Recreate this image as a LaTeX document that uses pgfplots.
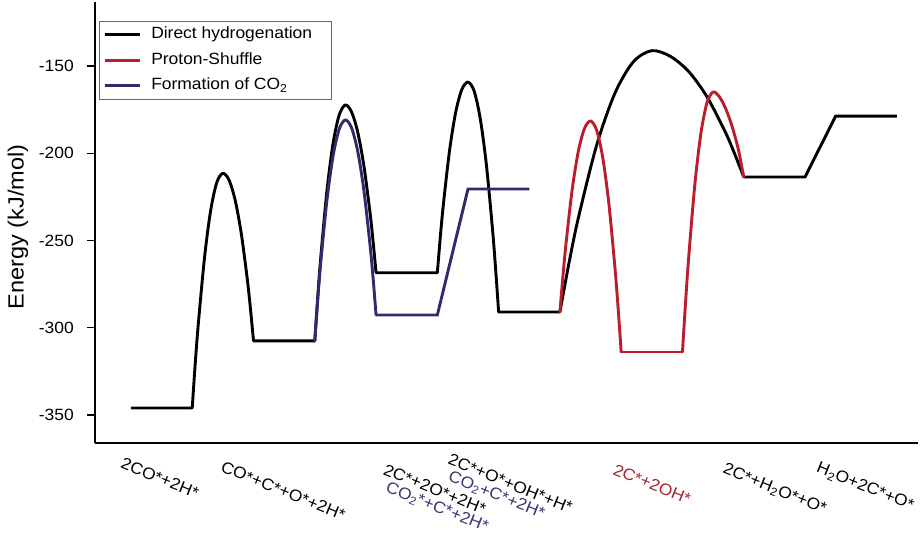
\documentclass[border=0pt]{standalone}
\usepackage{fontspec}
\setmainfont{Liberation Sans}[FakeStretch=1.07]
\usepackage{pgfplots}
\pgfplotsset{compat=1.18}
\definecolor{cred}{RGB}{188,28,44}
\definecolor{cblue}{RGB}{50,42,110}
\definecolor{credtext}{RGB}{165,35,50}
\definecolor{cbluetext}{RGB}{55,55,115}
\newcommand{\lbl}{\fontsize{16.3bp}{19bp}\selectfont}
\begin{document}
\begin{tikzpicture}
\begin{axis}[
  name=ax,
  scale only axis, width=823bp, height=441bp,
  xmin=-0.587, xmax=12.84, ymin=-366, ymax=-113.3,
  axis x line*=bottom, axis y line*=left,
  axis line style={line width=2.4bp, -},
  xtick=\empty,
  ytick={-350,-300,-250,-200,-150},
  tick align=outside,
  major tick length=8bp,
  tick style={line width=1.5bp, black},
  /pgf/number format/assume math mode=true,
  yticklabel style={font=\lbl, anchor=east, inner sep=0pt, xshift=-13bp},
  ylabel={Energy (kJ/mol)},
  every axis y label/.style={at={([xshift=-77bp]rel axis cs:0,0.49)}, rotate=90, anchor=center, font=\fontsize{22bp}{26bp}\selectfont},
  clip=false,
  legend style={at={(0.005,0.958)}, anchor=north west, draw=gray!80!black, line width=0.8bp, fill=white,
    inner xsep=4bp, inner ysep=3bp, row sep=4bp, column sep=7bp, font=\lbl,
    nodes={inner sep=3bp, text height=12bp, text depth=3.5bp}},
  legend cell align=left,
  legend image code/.code={\draw[#1, line width=2.8bp] (0bp,0bp) -- (35bp,0bp);},
  blk/.style={black, line width=2.9bp, forget plot, mark=none},
  rd/.style={cred, line width=2.9bp, forget plot, mark=none},
  blu/.style={cblue, line width=2.9bp, forget plot, mark=none},
  arc/.style={smooth, line cap=round, line join=round},
]
\addlegendimage{black, line width=2.8bp}
\addlegendentry{Direct hydrogenation\hspace*{12bp}}
\addlegendimage{cred, line width=2.8bp}
\addlegendentry{Proton-Shuffle}
\addlegendimage{cblue, line width=2.8bp}
\addlegendentry{Formation of CO\textsubscript{2}}

% Direct hydrogenation: plateaus
\addplot[blk, unbounded coords=jump] coordinates {
 (0,-346)(1,-346) (1.5,nan)
 (2,-307.5)(3,-307.5) (3.5,nan)
 (4,-268.5)(5,-268.5) (5.5,nan)
 (6,-291)(7,-291) (8.5,nan)
 (10,-213.6)(11,-213.6)(11.5,-178.7)(12.5,-178.7)};
% Direct hydrogenation: barriers
\addplot[blk, arc] coordinates {(1.0,-346)(1.05,-320)(1.1,-297.5)(1.2,-260)(1.3,-233)(1.4,-216.8)(1.5,-211.5)(1.6,-215.3)(1.7,-226.8)(1.8,-245.9)(1.9,-272.6)(1.95,-289)(2.0,-307.5)};
\addplot[blk, arc] coordinates {(3.0,-307.5)(3.05,-281.4)(3.1,-258.6)(3.2,-220.9)(3.3,-194.0)(3.4,-177.9)(3.5,-172.3)(3.6,-176.3)(3.7,-187.8)(3.8,-206.9)(3.9,-233.6)(3.95,-250)(4.0,-268.5)};
\addplot[blk, arc] coordinates {(5.0,-268.5)(5.05,-247.3)(5.1,-228.8)(5.2,-198.2)(5.3,-176.4)(5.4,-163.4)(5.5,-159.2)(5.6,-164.3)(5.7,-180.1)(5.8,-206.5)(5.9,-243.5)(5.95,-265.9)(6.0,-291)};
\addplot[blk, arc] coordinates {(7.0,-291)(7.15,-262.6)(7.3,-237.2)(7.6,-195.3)(7.9,-165.4)(8.2,-147.5)(8.5,-141.2)(8.8,-144.4)(9.1,-153.1)(9.4,-167.6)(9.7,-187.9)(9.85,-200.2)(10,-213.6)};

% Formation of CO2
\addplot[blu, arc] coordinates {(3.0,-307.5)(3.05,-283.1)(3.1,-261.6)(3.2,-226.4)(3.3,-201.2)(3.4,-186.0)(3.5,-180.9)(3.6,-185.4)(3.7,-198.8)(3.8,-221.0)(3.9,-252.0)(3.95,-270.9)(4.0,-292.7)};
\addplot[blu] coordinates {(4,-292.7)(5,-292.7)(5.5,-220.5)(6.5,-220.5)};

% Proton-Shuffle
\addplot[rd, arc] coordinates {(7.0,-291)(7.05,-270.2)(7.1,-251.6)(7.2,-220.9)(7.3,-199.0)(7.4,-185.9)(7.5,-181.5)(7.6,-186.8)(7.7,-202.7)(7.8,-229.2)(7.9,-266.3)(7.95,-288.8)(8.0,-313.9)};
\addplot[rd] coordinates {(8,-313.9)(9,-313.9)};
\addplot[rd, arc] coordinates {(9.0,-313.9)(9.05,-285.7)(9.1,-260.4)(9.2,-218.6)(9.3,-188.8)(9.4,-171.0)(9.5,-164.9)(9.6,-167.5)(9.7,-174)(9.8,-183.5)(9.9,-196)(9.95,-204.5)(10,-213.6)};

% state labels
\node[rotate=-22, anchor=base west, font=\lbl] at (axis cs:-0.233,-379.6) {2CO*+2H*};
\node[rotate=-22, anchor=base west, font=\lbl] at (axis cs:1.398,-381.5) {CO*+C*+O*+2H*};
\node[rotate=-22, anchor=base west, font=\lbl] at (axis cs:4.051,-383.1) {2C*+2O*+2H*};
\node[rotate=-22, anchor=base west, font=\lbl, text=cbluetext] at (axis cs:4.090,-393.0) {CO\textsubscript{2}*+C*+2H*};
\node[rotate=-22, anchor=base west, font=\lbl] at (axis cs:5.106,-377.3) {2C*+O*+OH*+H*};
\node[rotate=-22, anchor=base west, font=\lbl, text=cbluetext] at (axis cs:5.111,-386.8) {CO\textsubscript{2}+C*+2H*};
\node[rotate=-22, anchor=base west, font=\lbl, text=credtext] at (axis cs:7.798,-383.1) {2C*+2OH*};
\node[rotate=-22, anchor=base west, font=\lbl] at (axis cs:9.592,-382.5) {2C*+H\textsubscript{2}O*+O*};
\node[rotate=-22, anchor=base west, font=\lbl] at (axis cs:11.121,-381.9) {H\textsubscript{2}O+2C*+O*};
\end{axis}
\path (ax.south west) ++(-95bp,-88bp) rectangle ++(920bp,531bp);
\end{tikzpicture}
\end{document}
